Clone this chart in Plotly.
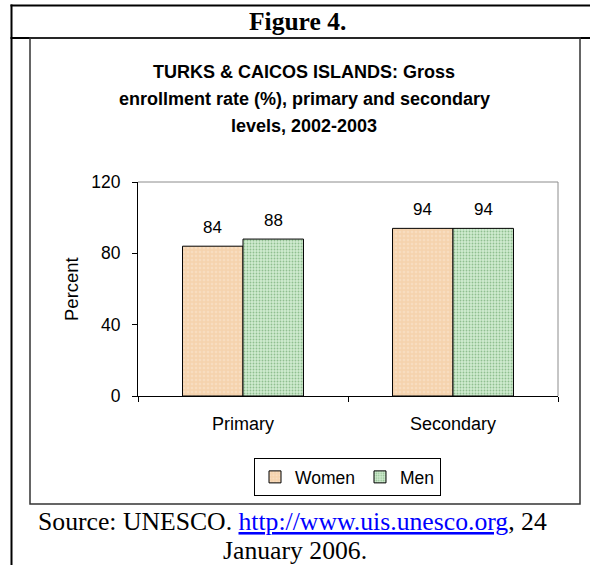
import plotly.graph_objects as go

# ---- data -------------------------------------------------------------
levels = ["Primary", "Secondary"]
women = [84, 94]
men = [88, 94]
y_ticks = [0, 40, 80, 120]

# ---- page geometry (pixels) -------------------------------------------
W, H = 590, 565
L, R, T, B = 138, 558, 182, 396          # plot area edges
PW, PH = R - L, B - T


def px(x):
    """pixel x -> paper x"""
    return (x - L) / PW


def py(y):
    """pixel y (from top) -> paper y"""
    return (B - y) / PH


SANS = "Liberation Sans, Arial, sans-serif"
SERIF = "Liberation Serif, Times New Roman, serif"
BARGAP = 0.424
bar_w = PW / len(levels) * (1 - BARGAP) / 2

fig = go.Figure()
fig.add_bar(
    name="Women", x=levels, y=women,
    marker=dict(color="#F5D3AE", line=dict(color="black", width=1),
                pattern=dict(shape=".", fgcolor="#FCE8D2", size=4, solidity=0.35)),
)
fig.add_bar(
    name="Men", x=levels, y=men,
    marker=dict(color="#D0EBD0", line=dict(color="black", width=1),
                pattern=dict(shape=".", fgcolor="#4F944F", size=3, solidity=0.3)),
)

annotations = []
# value labels above each bar
for k, vals in enumerate([women, men]):
    shift = (-1 if k == 0 else 1) * bar_w / 2
    for cat, v in zip(levels, vals):
        annotations.append(dict(
            x=cat, y=v, xref="x", yref="y", text=str(v), showarrow=False,
            xshift=shift, yshift=19, yanchor="middle",
            font=dict(family=SANS, size=17, color="black")))

# chart title, three centred lines
title_lines = ["TURKS & CAICOS ISLANDS: Gross",
               "enrollment rate (%), primary and secondary",
               "levels, 2002-2003"]
for line, yy in zip(title_lines, [72, 99, 126]):
    annotations.append(dict(
        x=px(304), y=py(yy), xref="paper", yref="paper", text=f"<b>{line}</b>",
        showarrow=False, xanchor="center", yanchor="middle",
        font=dict(family=SANS, size=18, color="black")))

# y-axis title
annotations.append(dict(
    x=px(71), y=py(289), xref="paper", yref="paper", text="Percent",
    textangle=-90, showarrow=False, xanchor="center", yanchor="middle",
    font=dict(family=SANS, size=18.5, color="black")))

# figure caption and source note
annotations.append(dict(
    x=px(297), y=py(21), xref="paper", yref="paper", text="<b>Figure 4.</b>",
    showarrow=False, xanchor="center", yanchor="middle",
    font=dict(family=SERIF, size=25.5, color="black")))
annotations.append(dict(
    x=px(292), y=py(521), xref="paper", yref="paper",
    text='Source: UNESCO. <span style="color:#0000FF"><u>http://www.uis.unesco.org</u></span>, 24',
    showarrow=False, xanchor="center", yanchor="middle",
    font=dict(family=SERIF, size=25.7, color="black")))
annotations.append(dict(
    x=px(295), y=py(550), xref="paper", yref="paper", text="January 2006.",
    showarrow=False, xanchor="center", yanchor="middle",
    font=dict(family=SERIF, size=25.7, color="black")))

shapes = [
    # table rules
    dict(type="line", xref="paper", yref="paper", x0=px(10.5), x1=px(600),
         y0=py(5.5), y1=py(5.5), line=dict(color="black", width=2)),
    dict(type="line", xref="paper", yref="paper", x0=px(10.5), x1=px(600),
         y0=py(38), y1=py(38), line=dict(color="black", width=2)),
    dict(type="line", xref="paper", yref="paper", x0=px(11.5), x1=px(11.5),
         y0=py(4.5), y1=py(570), line=dict(color="black", width=2)),
    # chart box
    dict(type="rect", xref="paper", yref="paper", x0=px(30), x1=px(580),
         y0=py(504), y1=py(38), line=dict(color="#333333", width=1.5)),
    # plot area frame (top and right)
    dict(type="line", xref="paper", yref="paper", x0=0, x1=1, y0=1, y1=1,
         line=dict(color="#8C8C8C", width=1)),
    dict(type="line", xref="paper", yref="paper", x0=1, x1=1, y0=0, y1=1,
         line=dict(color="#8C8C8C", width=1)),
]

fig.update_layout(
    width=W, height=H,
    margin=dict(l=L, r=W - R, t=T, b=H - B, pad=0),
    paper_bgcolor="white", plot_bgcolor="white",
    barmode="group", bargap=BARGAP, bargroupgap=0,
    font=dict(family=SANS, size=17, color="black"),
    showlegend=True,
    legend=dict(orientation="h", x=px(347.5), xanchor="center",
                y=py(458), yanchor="top", bordercolor="black", borderwidth=1,
                bgcolor="white", font=dict(family=SANS, size=17.5, color="black"),
                itemwidth=30, tracegroupgap=0),
    annotations=annotations,
    shapes=shapes,
)
fig.update_xaxes(
    type="category", showline=True, linecolor="black", linewidth=1,
    ticks="outside", ticklen=5, tickcolor="black", tickson="boundaries",
    tickfont=dict(family=SANS, size=18, color="black"),
    ticklabelstandoff=11, showgrid=False, zeroline=False,
)
fig.update_yaxes(
    range=[0, 120], tickvals=y_ticks, showline=True, linecolor="black",
    linewidth=1, ticks="outside", ticklen=5, tickcolor="black",
    tickfont=dict(family=SANS, size=17.5, color="black"),
    ticklabelstandoff=8, showgrid=False, zeroline=False,
)

fig.write_html("out.html", config={"displayModeBar": False})
